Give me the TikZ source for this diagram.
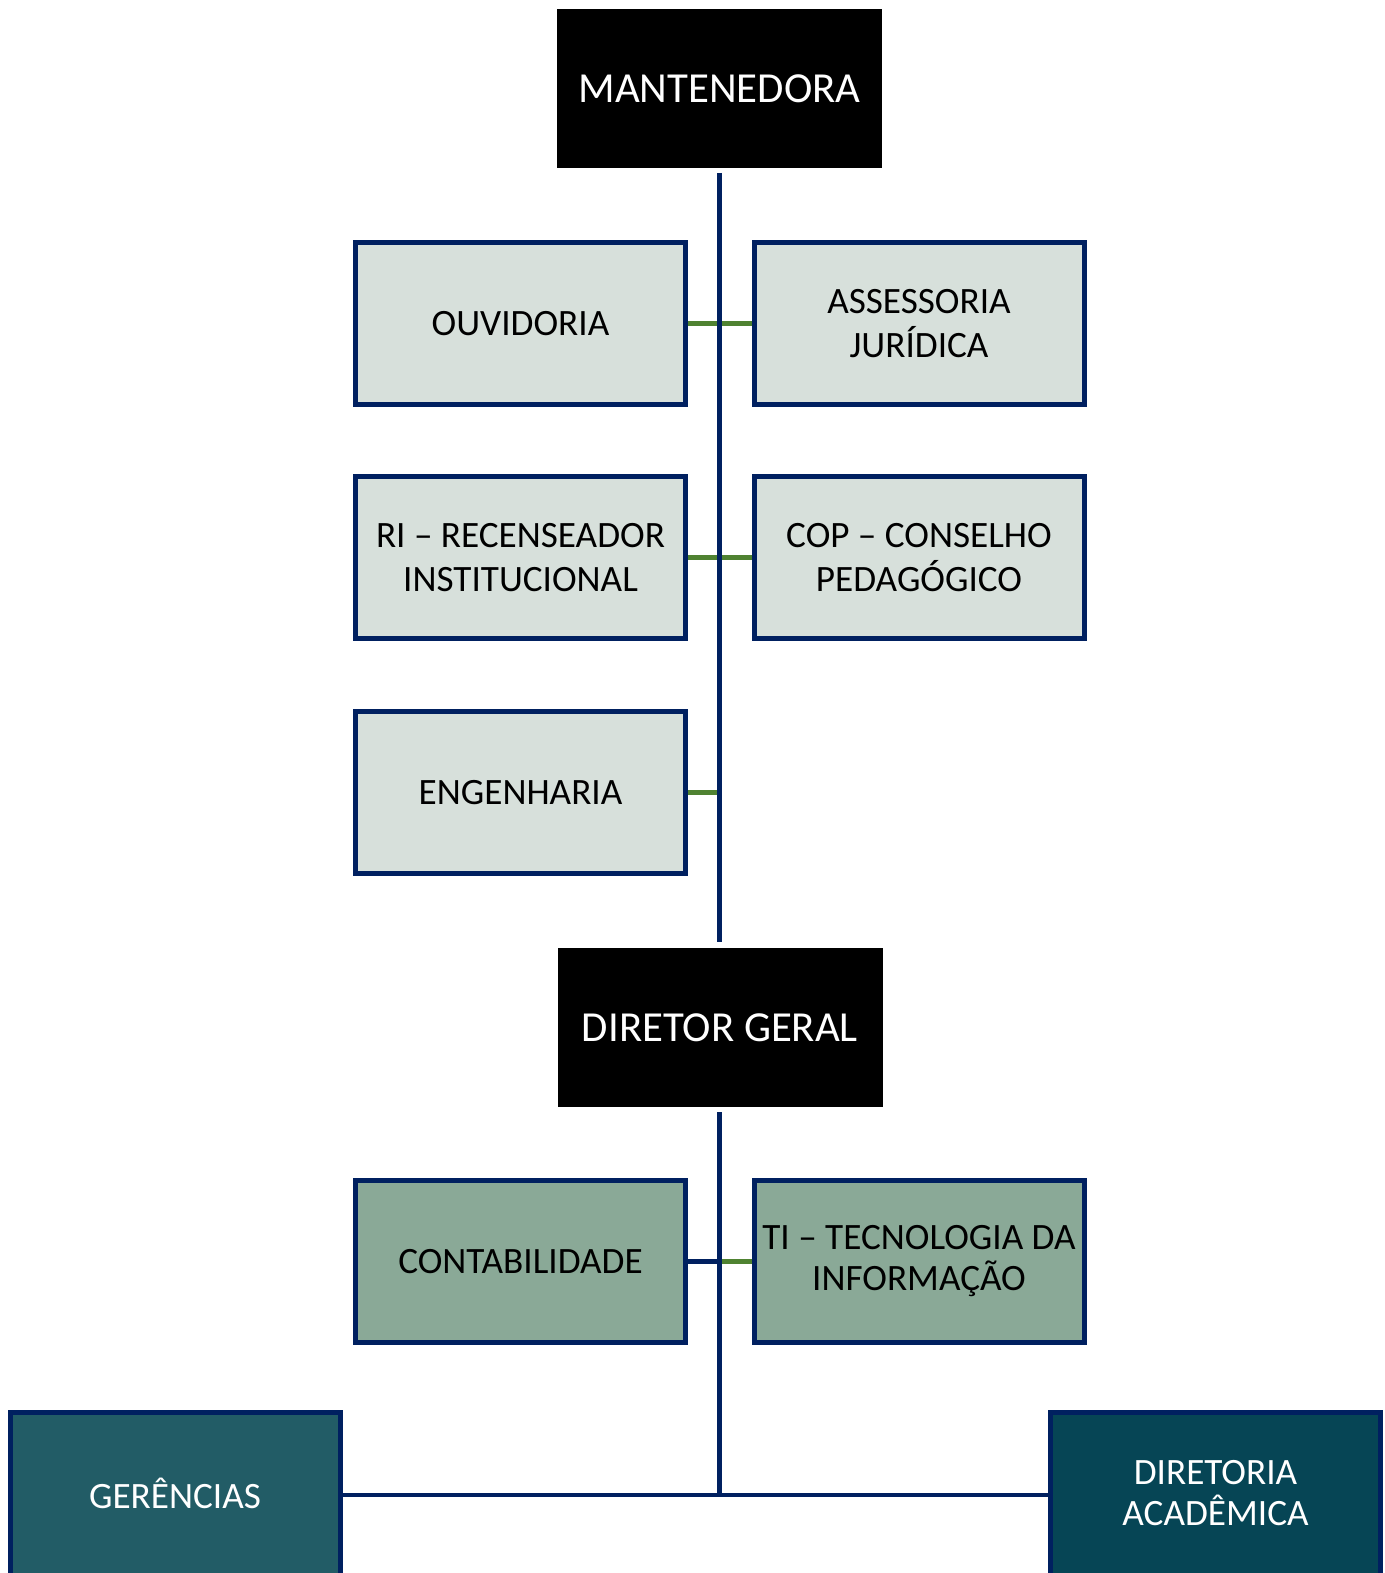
\documentclass[tikz,border=0pt]{standalone}
\usepackage{fontspec}
\setmainfont{Carlito}
\definecolor{navy}{HTML}{002060}
\definecolor{linkgreen}{HTML}{4F8231}
\definecolor{paleteal}{HTML}{D7E0DB}
\definecolor{sage}{HTML}{8AA997}
\definecolor{deepteal}{HTML}{225C66}
\definecolor{petrol}{HTML}{064555}
\begin{document}
\begin{tikzpicture}[x=0.5pt,y=-0.5pt,
  headbox/.style={rectangle, fill=black, text=white, minimum width=162.5pt, minimum height=79.5pt,
    inner sep=0pt, align=center, font=\fontsize{21.4}{25}\selectfont},
  unitbox/.style={rectangle, draw=navy, line width=2.5pt, minimum width=165pt, minimum height=81pt,
    inner sep=0pt, align=center, font=\fontsize{18.6}{22}\selectfont},
  staffbox/.style={unitbox, fill=paleteal, text=black},
  supportbox/.style={unitbox, fill=sage, text=black, font=\fontsize{18.6}{20.5}\selectfont},
  basebox/.style={unitbox, minimum height=95pt},
  basetext/.style={inner sep=0pt, align=center, text=white, font=\fontsize{18.6}{20.5}\selectfont},
  spine/.style={draw=navy, line width=2.6pt},
  greenlink/.style={draw=linkgreen, line width=2.4pt},
  navylink/.style={draw=navy, line width=2.4pt}]
\useasboundingbox (0,0) rectangle (1385,1573);
\fill[white] (0,0) rectangle (1385,1573);

% top level
\node[headbox] (mant) at (719.5,88.5) {MANTENEDORA};

% advisory units hanging from the upper spine
\node[staffbox] (ouv) at (520.5,323.5) {OUVIDORIA};
\node[staffbox] (ass) at (919,323.5) {ASSESSORIA\\JURÍDICA};
\node[staffbox] (ri)  at (520.5,557.5) {RI – RECENSEADOR\\INSTITUCIONAL};
\node[staffbox] (cop) at (919,557.5) {COP – CONSELHO\\PEDAGÓGICO};
\node[staffbox] (eng) at (520.5,792.5) {ENGENHARIA};

% director
\node[headbox] (dir) at (720,1027.5) {DIRETOR GERAL};

% support units
\node[supportbox] (cont) at (520.5,1261.5) {CONTABILIDADE};
\node[supportbox] (ti)   at (919,1261.5) {TI – TECNOLOGIA DA\\INFORMAÇÃO};

% bottom level: boxes run past the lower edge of the page
\node[basebox, fill=deepteal] (ger) at (175,1507.5) {};
\node[basetext] (gertxt) at (175,1493) {GERÊNCIAS};
\node[basebox, fill=petrol]  (dac) at (1215.5,1507.5) {};
\node[basetext] (dactxt) at (1215.5,1493) {DIRETORIA\\ACADÊMICA};

% spine coordinates
\coordinate (s1top) at (719.5,173);
\coordinate (s1bot) at (719.5,942);
\coordinate (s2top) at (719.5,1112);
\coordinate (s2bot) at (719.5,1495);
\coordinate (engjoin) at (719.5,792.5);
\coordinate (contjoin) at (719.5,1261.5);

% green links under the upper spine
\draw[greenlink] (ouv.east) -- (ass.west);
\draw[greenlink] (ri.east) -- (cop.west);
\draw[greenlink] (eng.east) -- (engjoin);
\draw[greenlink] (contjoin) -- (ti.west);

% spines
\draw[spine] (s1top) -- (s1bot);
\draw[navylink] (cont.east) -- (contjoin);
\draw[spine] (s2top) -- (s2bot);
\draw[navylink] (ger.east |- s2bot) -- (dac.west |- s2bot);
\end{tikzpicture}
\end{document}
